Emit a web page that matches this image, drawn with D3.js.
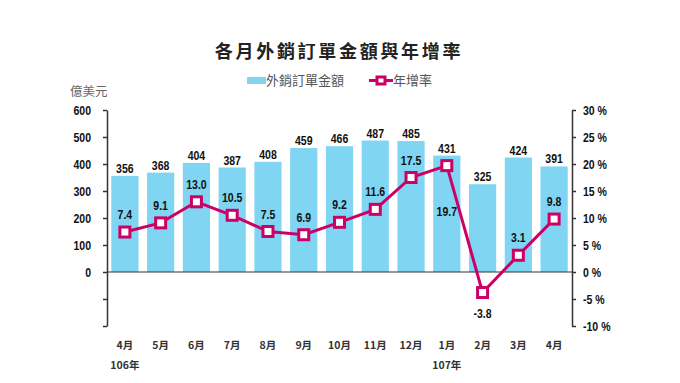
<!DOCTYPE html>
<html><head><meta charset="utf-8">
<script src="https://cdn.jsdelivr.net/npm/d3@7"></script>
<style>
body{margin:0;background:#fff;}
.nar{font-family:"Liberation Sans","Arial",sans-serif;font-weight:bold;}
.cjk{font-family:"Noto Sans CJK TC","Noto Sans CJK SC",sans-serif;}
</style></head>
<body>
<svg id="c" width="680" height="383"></svg>
<script>
const months = ["4月","5月","6月","7月","8月","9月","10月","11月","12月","1月","2月","3月","4月"];
const years = [{idx:0,label:"106年"},{idx:9,label:"107年"}];
const amounts = [356,368,404,387,408,459,466,487,485,431,325,424,391];
const growth = [7.4,9.1,13.0,10.5,7.5,6.9,9.2,11.6,17.5,19.7,-3.8,3.1,9.8];
const leftTicks = [600,500,400,300,200,100,0,-100,-200];
const rightTicks = [30,25,20,15,10,5,0,-5,-10];
const growthLabelPos = ["a","a","a","a","a","a","a","a","a","b2","b","a","a"];

const svg = d3.select("#c");
const L = 107, R = 572, T = 110, B = 326;
const SX = 0.78, FS = 13.5;
const x = d3.scaleBand().domain(d3.range(months.length)).range([L,R]).paddingInner(0.24).paddingOuter(0.12);
const yL = d3.scaleLinear().domain([-200,600]).range([B,T]);
const yR = d3.scaleLinear().domain([-10,30]).range([B,T]);
const axisColor = "#333";
const barColor = "#80D5F2";
const lineColor = "#CC0066";

function narrow(g, px, py, txt, anchor){
  g.append("text").attr("class","nar").attr("font-size",FS).attr("fill","#111")
   .attr("text-anchor",anchor||"middle")
   .attr("transform",`translate(${px},${py}) scale(${SX},1)`).text(txt);
}

// Title
svg.append("text").attr("x",339).attr("y",58).attr("text-anchor","middle")
  .attr("class","cjk").attr("font-size",18).attr("font-weight","bold").attr("fill","#222")
  .attr("letter-spacing",2.7).text("各月外銷訂單金額與年增率");

// Legend
svg.append("rect").attr("x",247).attr("y",77).attr("width",19).attr("height",7).attr("fill",barColor);
svg.append("text").attr("x",266).attr("y",85).attr("class","cjk").attr("font-size",13).attr("fill","#555").text("外銷訂單金額");
svg.append("line").attr("x1",369).attr("x2",393).attr("y1",80.5).attr("y2",80.5).attr("stroke",lineColor).attr("stroke-width",3);
svg.append("rect").attr("x",377).attr("y",77).attr("width",8).attr("height",7).attr("fill","#fff").attr("stroke",lineColor).attr("stroke-width",3);
svg.append("text").attr("x",393).attr("y",85).attr("class","cjk").attr("font-size",13).attr("fill","#555").text("年增率");

// unit
svg.append("text").attr("x",70).attr("y",96).attr("class","cjk").attr("font-size",12.5).attr("fill","#666").text("億美元");

// Bars
svg.append("g").selectAll("rect").data(amounts).join("rect")
  .attr("x",(d,i)=>x(i)).attr("width",x.bandwidth())
  .attr("y",d=>yL(d)).attr("height",d=>yL(0)-yL(d)).attr("fill",barColor);

// Bar labels
const gBL = svg.append("g");
amounts.forEach((d,i)=>narrow(gBL, x(i)+x.bandwidth()/2, yL(d)-3, d));

// Zero line
svg.append("line").attr("x1",L).attr("x2",R+1).attr("y1",yL(0)).attr("y2",yL(0)).attr("stroke",axisColor).attr("stroke-width",1.2);

// Left axis
const gL = svg.append("g").attr("transform",`translate(${L},0)`)
  .call(d3.axisLeft(yL).tickValues(leftTicks).tickSize(4).tickSizeOuter(0).tickPadding(12)
    .tickFormat(d=>d>=0?d:""));
gL.select(".domain").attr("stroke",axisColor).attr("stroke-width",1.5);
gL.selectAll(".tick line").attr("stroke",axisColor).attr("stroke-width",1.5);
gL.selectAll(".tick text").attr("class","nar").attr("font-size",FS).attr("fill","#111")
  .attr("x",null).attr("transform",`translate(-16,0) scale(${SX},1)`);

// Right axis
const gR = svg.append("g").attr("transform",`translate(${R},0)`)
  .call(d3.axisRight(yR).tickValues(rightTicks).tickSize(4).tickSizeOuter(0).tickPadding(7)
    .tickFormat(d=>d+" %"));
gR.select(".domain").attr("stroke",axisColor).attr("stroke-width",1.5);
gR.selectAll(".tick line").attr("stroke",axisColor).attr("stroke-width",1.5);
gR.selectAll(".tick text").attr("class","nar").attr("font-size",FS).attr("fill","#111")
  .attr("x",null).attr("transform",`translate(11,0) scale(${SX},1)`);

// Line
const cx = i=>x(i)+x.bandwidth()/2;
svg.append("path").datum(growth)
  .attr("d",d3.line().x((d,i)=>cx(i)).y(d=>yR(d)))
  .attr("fill","none").attr("stroke",lineColor).attr("stroke-width",3);
svg.append("g").selectAll("rect").data(growth).join("rect")
  .attr("x",(d,i)=>cx(i)-5).attr("y",d=>yR(d)-5).attr("width",10).attr("height",10)
  .attr("fill","#fff").attr("stroke",lineColor).attr("stroke-width",3);

// Growth labels
const gGL = svg.append("g");
const off = {a:-13, b:25, b2:50};
growth.forEach((d,i)=>narrow(gGL, cx(i), yR(d)+off[growthLabelPos[i]], d.toFixed(1)));

// X labels
svg.append("g").selectAll("text").data(months).join("text")
  .attr("class","cjk").attr("font-size",10.5).attr("font-weight","bold").attr("fill","#333").attr("text-anchor","middle")
  .attr("x",(d,i)=>cx(i)).attr("y",349).text(d=>d);
svg.append("g").selectAll("text").data(years).join("text")
  .attr("class","cjk").attr("font-size",10.5).attr("font-weight","bold").attr("fill","#333").attr("text-anchor","middle")
  .attr("x",d=>cx(d.idx)).attr("y",369).text(d=>d.label);
</script>
</body></html>
